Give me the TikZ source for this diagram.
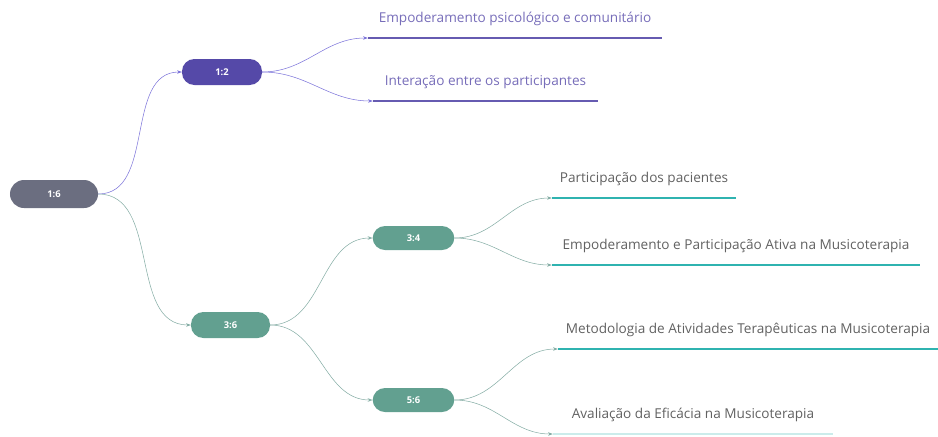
\documentclass[tikz,border=0pt]{standalone}
\usepackage{fontspec}
\setmainfont{Open Sans}
\usepackage{tikz}
\usetikzlibrary{positioning}
\usetikzlibrary{arrows.meta}
\definecolor{rootgrey}{HTML}{6B6E80}
\definecolor{darkpurple}{HTML}{5549A8}
\definecolor{sagegreen}{HTML}{62A090}
\definecolor{leafteal}{HTML}{2FB3B0}
\definecolor{edgepurple}{HTML}{7C74DA}
\definecolor{edgeteal}{HTML}{9CCCC2}
\tikzset {
  % topic boxes
  topic/.style = {rounded corners=0.37cm, text=white, font=\footnotesize\bfseries,
    inner sep=0pt, minimum width=2.45cm, minimum height=0.75cm},
  root/.style = {topic, fill=rootgrey, minimum width=2.64cm, minimum height=0.84cm,
    rounded corners=0.42cm},
  purplebox/.style = {topic, fill=darkpurple},
  greenbox/.style = {topic, fill=sagegreen},
  % leaves: text over an underline
  leaf/.style = {anchor=south, inner xsep=0pt, inner ysep=10pt, font=\fontsize{11.6}{13}\selectfont},
  pleaf/.style = {leaf, text=darkpurple!80},
  tleaf/.style = {leaf, text=black!62},
  % connectors
  link/.style = {line width=0.45pt, -{Stealth[length=4pt, width=3pt]}, out=0, in=180},
  plink/.style = {link, edgepurple},
  tlink/.style = {link, edgeteal!85!black},
  pline/.style = {darkpurple!90, line width=1.4pt},
  tline/.style = {leafteal, line width=1.4pt},
}
\begin{document}
\begin{tikzpicture}[x=0.03cm, y=-0.03cm]
  \useasboundingbox (0,0) rectangle (938,436);

  \node[root] (n16) at (54,194) {1:6};
  \node[purplebox, minimum width=2.4cm, minimum height=0.78cm] (n12) at (222,72) {1:2};
  \node[greenbox, minimum width=2.37cm, minimum height=0.78cm] (n36) at (230.5,325) {3:6};
  \node[greenbox, minimum height=0.72cm] (n34) at (413.5,238) {3:4};
  \node[greenbox, minimum height=0.72cm] (n56) at (413.5,400) {5:6};

  \node[pleaf, minimum width=8.82cm] (l1) at (515,38) {Empoderamento psicológico e comunitário};
  \node[pleaf, minimum width=6.75cm] (l2) at (485.5,101) {Interação entre os participantes};
  \node[tleaf, minimum width=5.52cm] (l3) at (644,198) {Participação dos pacientes};
  \node[tleaf, minimum width=11.04cm] (l4) at (736,265) {Empoderamento e Participação Ativa na Musicoterapia};
  \node[tleaf, minimum width=11.4cm] (l5) at (748,349) {Metodologia de Atividades Terapêuticas na Musicoterapia};
  \node[tleaf, minimum width=8.4cm] (l6) at (693,434) {Avaliação da Eficácia na Musicoterapia};

  \draw[pline] (l1.south west) -- (l1.south east);
  \draw[pline] (l2.south west) -- (l2.south east);
  \draw[tline] (l3.south west) -- (l3.south east);
  \draw[tline] (l4.south west) -- (l4.south east);
  \draw[tline] (l5.south west) -- (l5.south east);
  \draw[tline, leafteal!25] (l6.south west) -- (l6.south east);

  \draw[plink] (n16.east) to (n12.west);
  \draw[tlink] (n16.east) to (n36.west);

  \draw[plink] (n12.east) to (l1.south west);
  \draw[plink] (n12.east) to (l2.south west);

  \draw[tlink] (n36.east) to (n34.west);
  \draw[tlink] (n36.east) to (n56.west);

  \draw[tlink] (n34.east) to (l3.south west);
  \draw[tlink] (n34.east) to (l4.south west);
  \draw[tlink] (n56.east) to (l5.south west);
  \draw[tlink] (n56.east) to (l6.south west);
\end{tikzpicture}
\end{document}
